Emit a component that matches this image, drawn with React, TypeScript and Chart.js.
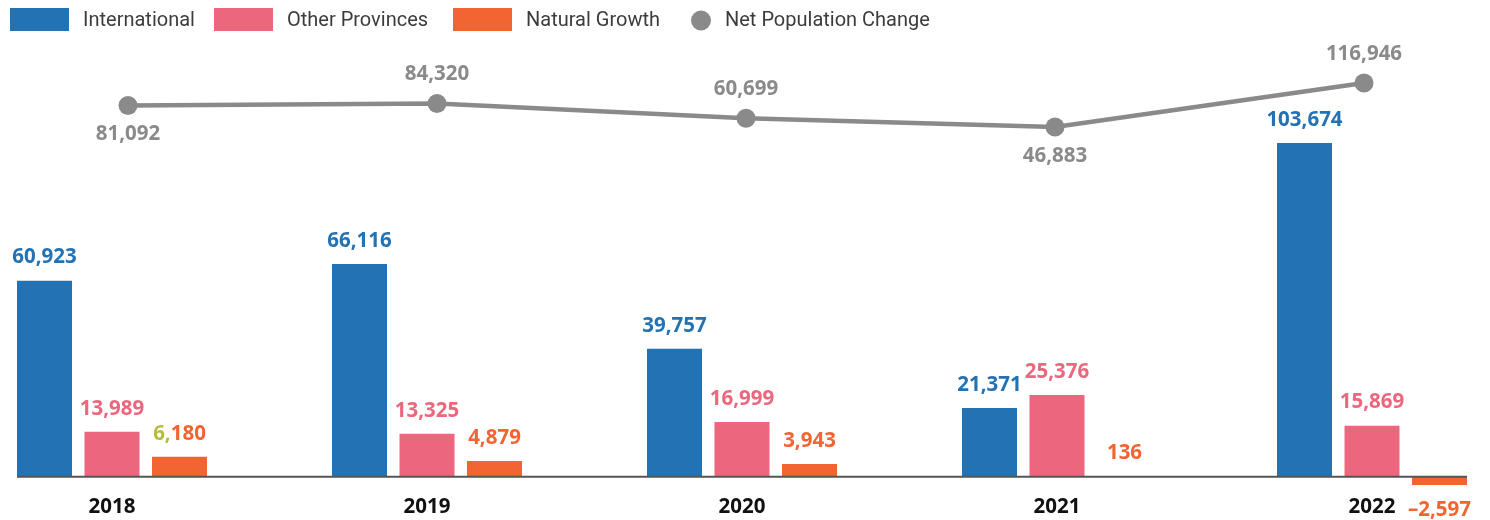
import { useEffect, useRef } from 'react';
import { Chart, registerables, BarController } from 'chart.js';

Chart.register(...registerables);

// Chart.js 4.4 splits bar groups by every distinct x axis used by any dataset
// (including the line's own x axis). Count only the axes used by bar datasets.
const barProto: any = BarController.prototype;
if (typeof barProto._getAxis === 'function') {
  barProto._getAxis = function () {
    const chart = this.chart;
    const ids: string[] = [];
    chart.data.datasets.forEach((ds: any) => {
      const type = ds.type || chart.config.type;
      if (type !== 'bar') return;
      const id = ds.xAxisID || 'x';
      if (!ids.includes(id)) ids.push(id);
    });
    return ids.length ? ids : ['x'];
  };
}

// ---- data ----
const years = ['2018', '2019', '2020', '2021', '2022'];
const international = [60923, 66116, 39757, 21371, 103674];
const otherProvinces = [13989, 13325, 16999, 25376, 15869];
const naturalGrowth = [6180, 4879, 3943, 136, -2597];
const netPopulationChange = [81092, 84320, 60699, 46883, 116946];

// ---- style ----
const netLabelPlacement = ['below', 'above', 'above', 'below', 'above'];
const BLUE = '#2272B4';
const PINK = '#EC677D';
const ORANGE = '#F26430';
const GRAY = '#8A8A8A';
const LABEL_FONT = '700 20.5px "Noto Sans"';
const LEGEND_FONT = '400 20px Roboto';
const legendStarts = [10, 214, 453, 691];
// two-tone label seen in the reference ("6," drawn in yellow-green)
const splitLabel = { datasetIndex: 2, index: 0, chars: 2, color: '#B3BE3A' };

const fmt = (v: number) => (v < 0 ? '\u2013' : '') + Math.abs(v).toLocaleString('en-US');

const baselinePlugin = {
  id: 'baseline',
  afterDatasetsDraw(chart: any) {
    const y = chart.scales.y.getPixelForValue(0);
    const first = chart.getDatasetMeta(0).data[0];
    const lastMeta = chart.getDatasetMeta(2).data;
    const last = lastMeta[lastMeta.length - 1];
    if (!first || !last) return;
    const ctx = chart.ctx;
    ctx.save();
    ctx.strokeStyle = '#555555';
    ctx.lineWidth = 2;
    ctx.beginPath();
    ctx.moveTo(first.x - first.width / 2, y);
    ctx.lineTo(last.x + last.width / 2, y);
    ctx.stroke();
    ctx.restore();
  },
};

const valueLabelPlugin = {
  id: 'valueLabels',
  afterDraw(chart: any) {
    const ctx = chart.ctx;
    ctx.save();
    ctx.font = LABEL_FONT;
    ctx.textBaseline = 'middle';
    chart.data.datasets.forEach((ds: any, di: number) => {
      const meta = chart.getDatasetMeta(di);
      meta.data.forEach((el: any, i: number) => {
        const raw = ds.data[i];
        const v = typeof raw === 'number' ? raw : raw.y;
        const text = fmt(v);
        let ty: number;
        if (ds.type === 'line') {
          ty = netLabelPlacement[i] === 'above' ? el.y - 29 : el.y + 29;
        } else {
          ty = v >= 0 ? el.y - 23 : el.y + 25;
        }
        const color = ds.labelColor || ds.backgroundColor;
        if (splitLabel.datasetIndex === di && splitLabel.index === i) {
          const w = ctx.measureText(text).width;
          const pre = text.slice(0, splitLabel.chars);
          const rest = text.slice(splitLabel.chars);
          let x = el.x - w / 2;
          ctx.textAlign = 'left';
          ctx.fillStyle = splitLabel.color;
          ctx.fillText(pre, x, ty);
          x += ctx.measureText(pre).width;
          ctx.fillStyle = color;
          ctx.fillText(rest, x, ty);
        } else {
          ctx.textAlign = 'center';
          ctx.fillStyle = color;
          ctx.fillText(text, el.x, ty);
        }
      });
    });
    ctx.restore();
  },
};

const legendPlugin = {
  id: 'customLegend',
  afterDraw(chart: any) {
    const ctx = chart.ctx;
    ctx.save();
    ctx.font = LEGEND_FONT;
    ctx.textBaseline = 'middle';
    ctx.textAlign = 'left';
    const cy = 19.5;
    chart.data.datasets.forEach((ds: any, di: number) => {
      const x0 = legendStarts[di];
      const color = ds.type === 'line' ? ds.borderColor : ds.backgroundColor;
      ctx.fillStyle = color;
      let tx: number;
      if (ds.type === 'line') {
        ctx.beginPath();
        ctx.arc(x0 + 10, cy + 1, 10, 0, Math.PI * 2);
        ctx.fill();
        tx = x0 + 20 + 14;
      } else {
        ctx.fillRect(x0, 8, 59, 23);
        tx = x0 + 59 + 14;
      }
      ctx.fillStyle = '#3C3C3C';
      ctx.fillText(ds.label, tx, cy + 1);
    });
    ctx.restore();
  },
};

export default function App() {
  const canvasRef = useRef<HTMLCanvasElement | null>(null);

  useEffect(() => {
    if (!canvasRef.current) return;
    const chart = new Chart(canvasRef.current, {
      type: 'bar',
      data: {
        labels: years,
        datasets: [
          {
            label: 'International',
            data: international,
            backgroundColor: BLUE,
            xAxisID: 'x',
            yAxisID: 'y',
            clip: false,
          },
          {
            label: 'Other Provinces',
            data: otherProvinces,
            backgroundColor: PINK,
            xAxisID: 'x',
            yAxisID: 'y',
            clip: false,
          },
          {
            label: 'Natural Growth',
            data: naturalGrowth,
            backgroundColor: ORANGE,
            xAxisID: 'x',
            yAxisID: 'y',
            clip: false,
          },
          {
            type: 'line',
            label: 'Net Population Change',
            data: netPopulationChange.map((y, i) => ({ x: i, y })),
            xAxisID: 'x2',
            yAxisID: 'y2',
            borderColor: GRAY,
            backgroundColor: GRAY,
            labelColor: GRAY,
            borderWidth: 4.5,
            pointRadius: 9.5,
            pointHoverRadius: 9.5,
            pointBorderWidth: 0,
            pointBackgroundColor: GRAY,
            tension: 0,
            clip: false,
          },
        ] as any,
      },
      options: {
        animation: false,
        responsive: true,
        maintainAspectRatio: false,
        devicePixelRatio: 1,
        events: [],
        layout: { padding: { left: 112, right: 118, top: 39, bottom: 0 } },
        datasets: {
          bar: { categoryPercentage: 0.6429, barPercentage: 0.8148 },
        },
        plugins: {
          legend: { display: false },
          tooltip: { enabled: false },
        },
        scales: {
          x: {
            type: 'category',
            offset: false,
            grid: { display: false, drawTicks: false, offset: false },
            border: { display: false },
            ticks: {
              color: '#111111',
              padding: 5,
              autoSkip: false,
              maxRotation: 0,
              font: { family: 'Noto Sans', size: 20.5, weight: 'bold', lineHeight: 0.8 },
            },
          },
          x2: {
            type: 'linear',
            display: false,
            offset: false,
            grid: { offset: false },
            min: -0.0518,
            max: 4.0259,
          },
          y: { display: false, min: -5250, max: 136000 },
          y2: { display: false, min: -537400, max: 187100 },
        },
      } as any,
      plugins: [baselinePlugin, valueLabelPlugin, legendPlugin],
    });
    return () => chart.destroy();
  }, []);

  return (
    <div style={{ position: 'absolute', left: 0, top: 0, width: 1490, height: 520 }}>
      <canvas ref={canvasRef} />
    </div>
  );
}
